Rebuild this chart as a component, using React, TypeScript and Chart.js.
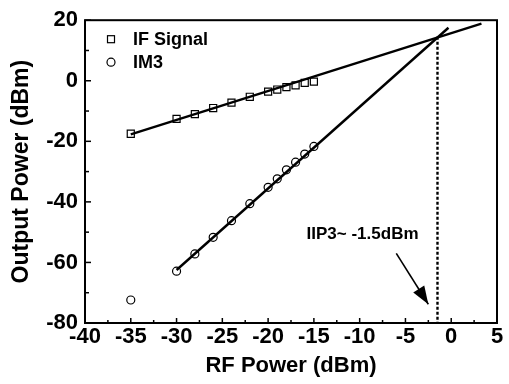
import React, { useEffect, useRef } from "react";
import { Chart, registerables } from "chart.js";

Chart.register(...registerables);

const IF_X = [-35, -30, -28, -26, -24, -22, -20, -19, -18, -17, -16, -15];
const IF_Y = [-17.5, -12.6, -11.0, -9.0, -7.2, -5.3, -3.6, -2.9, -2.1, -1.5, -0.7, -0.3];
const IM3_X = [-35, -30, -28, -26, -24, -22, -20, -19, -18, -17, -16, -15];
const IM3_Y = [-72.4, -62.9, -57.2, -51.7, -46.2, -40.6, -35.2, -32.4, -29.4, -26.9, -24.2, -21.7];

const IF_FIT_X = [-35, 3.3];
const IF_FIT_Y = [-17.7, 18.9];
const IM3_FIT_X = [-30, -0.3];
const IM3_FIT_Y = [-62.5, 17.5];

const IIP3_X = [-1.5, -1.5];
const IIP3_Y = [14.5, -80];

const ARROW_X = [-6, -2.5];
const ARROW_Y = [-57, -73.8];

const NOTE_TEXT = "IIP3~ -1.5dBm";
const NOTE_X = -15.8;
const NOTE_Y = -50.7;

const LEGEND_LABELS = ["IF Signal", "IM3"];

const X_MIN = -40;
const X_MAX = 5;
const X_STEP = 5;
const Y_MIN = -80;
const Y_MAX = 20;
const Y_STEP = 20;

const FONT = "'Liberation Sans', Arial, sans-serif";

const pts = (xs: number[], ys: number[]) => xs.map((x, i) => ({ x, y: ys[i] }));

const framePlugin = {
  id: "frame",
  afterDatasetsDraw(chart: any) {
    const { ctx, chartArea: a, scales } = chart;
    const xs = scales.x;
    const ys = scales.y;
    ctx.save();
    ctx.strokeStyle = "#000";
    ctx.lineWidth = 2;
    ctx.strokeRect(a.left, a.top, a.right - a.left, a.bottom - a.top);

    // inward ticks
    ctx.lineWidth = 1.5;
    const xt = xs.ticks.map((t: any) => t.value);
    for (let i = 0; i < xt.length; i++) {
      const v = xt[i];
      const px = xs.getPixelForValue(v);
      ctx.beginPath();
      ctx.moveTo(px, a.bottom);
      ctx.lineTo(px, a.bottom - 5);
      ctx.stroke();
      if (i < xt.length - 1) {
        const m = xs.getPixelForValue((v + xt[i + 1]) / 2);
        ctx.beginPath();
        ctx.moveTo(m, a.bottom);
        ctx.lineTo(m, a.bottom - 3);
        ctx.stroke();
      }
    }
    const yt = ys.ticks.map((t: any) => t.value);
    for (let i = 0; i < yt.length; i++) {
      const v = yt[i];
      const py = ys.getPixelForValue(v);
      ctx.beginPath();
      ctx.moveTo(a.left, py);
      ctx.lineTo(a.left + 6, py);
      ctx.stroke();
      if (i < yt.length - 1) {
        const m = ys.getPixelForValue((v + yt[i + 1]) / 2);
        ctx.beginPath();
        ctx.moveTo(a.left, m);
        ctx.lineTo(a.left + 4, m);
        ctx.stroke();
      }
    }

    // arrow head
    const x0 = xs.getPixelForValue(ARROW_X[0]);
    const y0 = ys.getPixelForValue(ARROW_Y[0]);
    const x1 = xs.getPixelForValue(ARROW_X[1]);
    const y1 = ys.getPixelForValue(ARROW_Y[1]);
    const ang = Math.atan2(y1 - y0, x1 - x0);
    const L = 18;
    const W = 6.5;
    ctx.fillStyle = "#000";
    ctx.beginPath();
    ctx.moveTo(x1, y1);
    ctx.lineTo(x1 - L * Math.cos(ang) - W * Math.sin(ang), y1 - L * Math.sin(ang) + W * Math.cos(ang));
    ctx.lineTo(x1 - L * Math.cos(ang) + W * Math.sin(ang), y1 - L * Math.sin(ang) - W * Math.cos(ang));
    ctx.closePath();
    ctx.fill();

    // annotation text
    ctx.font = `bold 17px ${FONT}`;
    ctx.textAlign = "left";
    ctx.textBaseline = "middle";
    ctx.fillText(NOTE_TEXT, xs.getPixelForValue(NOTE_X), ys.getPixelForValue(NOTE_Y));

    // legend
    const lx = a.left + 26;
    const ly1 = a.top + 19;
    const ly2 = a.top + 42;
    ctx.lineWidth = 1.2;
    ctx.strokeStyle = "#000";
    ctx.strokeRect(lx - 3.5, ly1 - 3.5, 7, 7);
    ctx.beginPath();
    ctx.arc(lx, ly2, 4, 0, Math.PI * 2);
    ctx.stroke();
    ctx.font = `bold 18px ${FONT}`;
    ctx.fillText(LEGEND_LABELS[0], a.left + 48, ly1 + 1);
    ctx.fillText(LEGEND_LABELS[1], a.left + 48, ly2 + 1);
    ctx.restore();
  },
};

export default function App() {
  const ref = useRef<HTMLCanvasElement | null>(null);

  useEffect(() => {
    document.body.style.margin = "0";
    const canvas = ref.current;
    if (!canvas) return;
    const chart = new Chart(canvas, {
      type: "scatter",
      data: {
        datasets: [
          {
            label: LEGEND_LABELS[0],
            data: pts(IF_X, IF_Y),
            pointStyle: "rect",
            pointRadius: 5,
            pointBorderWidth: 1.2,
            borderColor: "#000",
            backgroundColor: "rgba(255,255,255,0)",
            showLine: false,
          },
          {
            label: LEGEND_LABELS[1],
            data: pts(IM3_X, IM3_Y),
            pointStyle: "circle",
            pointRadius: 4,
            pointBorderWidth: 1.2,
            borderColor: "#000",
            backgroundColor: "rgba(255,255,255,0)",
            showLine: false,
          },
          {
            label: "IF fit",
            data: pts(IF_FIT_X, IF_FIT_Y),
            showLine: true,
            pointRadius: 0,
            borderColor: "#000",
            borderWidth: 2.4,
          },
          {
            label: "IM3 fit",
            data: pts(IM3_FIT_X, IM3_FIT_Y),
            showLine: true,
            pointRadius: 0,
            borderColor: "#000",
            borderWidth: 2.4,
          },
          {
            label: "IIP3",
            data: pts(IIP3_X, IIP3_Y),
            showLine: true,
            pointRadius: 0,
            borderColor: "#000",
            borderWidth: 2.4,
            borderDash: [3, 2],
          },
          {
            label: "arrow",
            data: pts(ARROW_X, ARROW_Y),
            showLine: true,
            pointRadius: 0,
            borderColor: "#000",
            borderWidth: 1.6,
          },
        ],
      },
      options: {
        animation: false,
        responsive: false,
        maintainAspectRatio: false,
        layout: { padding: { left: 0, top: 19, right: 12, bottom: 0 } },
        plugins: {
          legend: { display: false },
          tooltip: { enabled: false },
        },
        scales: {
          x: {
            type: "linear",
            min: X_MIN,
            max: X_MAX,
            ticks: {
              stepSize: X_STEP,
              color: "#000",
              font: { family: FONT, size: 22, weight: "bold" },
              padding: 1,
              maxRotation: 0,
            },
            grid: { display: false, drawTicks: false },
            border: { display: false },
            title: {
              display: true,
              text: "RF Power (dBm)",
              color: "#000",
              font: { family: FONT, size: 22, weight: "bold" },
              padding: { top: 0, bottom: 5 },
            },
            afterFit: (s: any) => {
              s.height = 61;
            },
          },
          y: {
            type: "linear",
            min: Y_MIN,
            max: Y_MAX,
            ticks: {
              stepSize: Y_STEP,
              color: "#000",
              font: { family: FONT, size: 22, weight: "bold" },
              padding: 7,
            },
            grid: { display: false, drawTicks: false },
            border: { display: false },
            title: {
              display: true,
              text: "Output Power (dBm)",
              color: "#000",
              font: { family: FONT, size: 23, weight: "bold" },
              padding: { top: 8, bottom: 0 },
            },
            afterFit: (s: any) => {
              s.width = 85;
            },
          },
        },
      },
      plugins: [framePlugin],
    } as any);
    return () => chart.destroy();
  }, []);

  return (
    <div style={{ width: 509, height: 384, background: "#fff" }}>
      <canvas ref={ref} width={509} height={384} style={{ display: "block" }} />
    </div>
  );
}
